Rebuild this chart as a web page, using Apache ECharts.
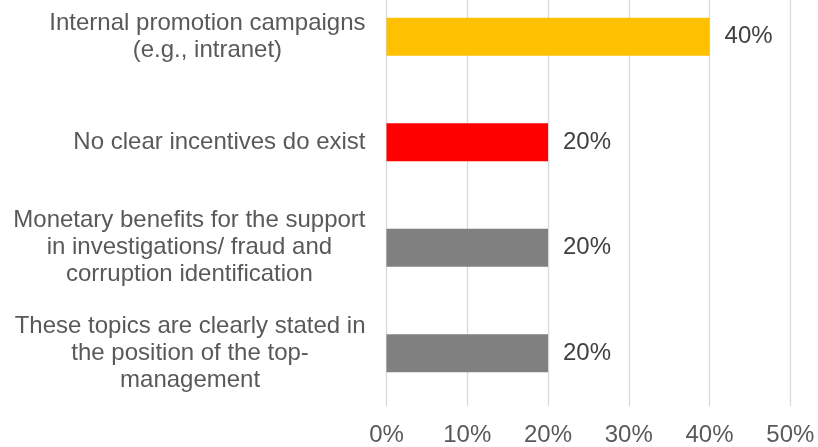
<!DOCTYPE html>
<html>
<head>
<meta charset="utf-8">
<script src="https://cdn.jsdelivr.net/npm/echarts@6/dist/echarts.min.js"></script>
<style>
html,body{margin:0;padding:0;background:#fff;overflow:hidden;width:818px;height:447px;}
#chart{position:absolute;left:0;top:-16px;width:818px;height:463px;}
</style>
</head>
<body>
<div id="chart"></div>
<script>
var categories = [
  "Internal promotion campaigns\n(e.g., intranet)",
  "No clear incentives do exist",
  "Monetary benefits for the support\nin investigations/ fraud and\ncorruption identification",
  "These topics are clearly stated in\nthe position of the top-\nmanagement"
];
var values = [40, 20, 20, 20];
var barColors = ["#FFC000", "#FF0000", "#808080", "#808080"];
var tickMin = 0, tickMax = 50, tickStep = 10;

var chart = echarts.init(document.getElementById('chart'), null, {renderer: 'canvas', width: 818, height: 463});
var font = 'Liberation Sans, Arial, sans-serif';
chart.setOption({
  animation: false,
  backgroundColor: '#ffffff',
  grid: {left: 386.5, right: 27.7, top: 0, bottom: 37.8, containLabel: false},
  xAxis: {
    type: 'value', min: tickMin, max: tickMax, interval: tickStep,
    axisLine: {show: false}, axisTick: {show: false},
    splitLine: {show: true, lineStyle: {color: '#D9D9D9', width: 1.3}},
    axisLabel: {
      formatter: function (v) { return v + '%'; },
      color: '#595959', fontFamily: font, fontSize: 24, margin: 17
    }
  },
  yAxis: {
    type: 'category', data: categories, inverse: true,
    axisLine: {show: false}, axisTick: {show: false},
    axisLabel: {
      margin: 21,
      formatter: function (v) { return '{c|' + v.split('\n').join('}\n{c|') + '}'; },
      rich: {c: {align: 'center', color: '#595959', fontFamily: font, fontSize: 24, lineHeight: 27}}
    }
  },
  series: [{
    type: 'bar',
    barWidth: 38,
    data: values.map(function (v, i) { return {value: v, itemStyle: {color: barColors[i]}}; }),
    label: {
      show: true, position: 'right', distance: 15,
      formatter: function (p) { return p.value + '%'; },
      color: '#404040', fontFamily: font, fontSize: 24
    }
  }]
});
</script>
</body>
</html>
